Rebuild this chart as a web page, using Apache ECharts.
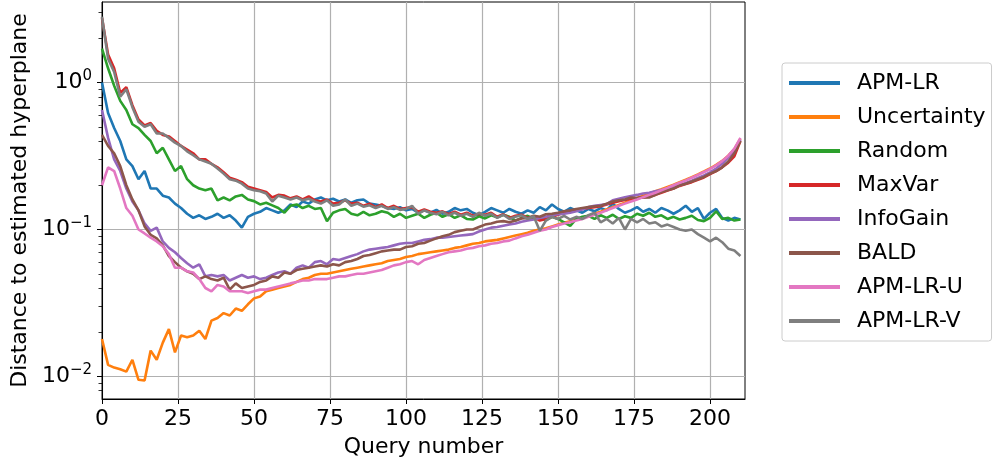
<!DOCTYPE html>
<html>
<head>
<meta charset="utf-8">
<script src="https://cdn.jsdelivr.net/npm/echarts@6/dist/echarts.min.js"></script>
<style>
html, body { margin: 0; padding: 0; background: #fff; }
#chart { width: 995px; height: 463px; }
</style>
</head>
<body>
<div id="chart"></div>
<script>
// distance to estimated hyperplane, one value every 2 queries (0..210)
const apmLr = [
  1.00, 0.62, 0.49, 0.40, 0.30, 0.27, 0.22, 0.25, 0.19, 0.19,
  0.17, 0.165, 0.15, 0.14, 0.128, 0.12, 0.125, 0.118, 0.122, 0.128,
  0.12, 0.125, 0.115, 0.103, 0.122, 0.128, 0.132, 0.14, 0.135, 0.13,
  0.135, 0.148, 0.142, 0.155, 0.15, 0.16, 0.165, 0.158, 0.162, 0.155,
  0.16, 0.152, 0.158, 0.16, 0.15, 0.148, 0.145, 0.14, 0.138, 0.142,
  0.135, 0.138, 0.13, 0.135, 0.13, 0.136, 0.128, 0.132, 0.14, 0.135,
  0.138, 0.13, 0.125, 0.132, 0.14, 0.135, 0.13, 0.138, 0.132, 0.128,
  0.135, 0.13, 0.142, 0.135, 0.148, 0.138, 0.132, 0.14, 0.135, 0.13,
  0.138, 0.133, 0.14, 0.135, 0.15, 0.138, 0.13, 0.135, 0.142, 0.132,
  0.138, 0.13, 0.14, 0.135, 0.128, 0.135, 0.145, 0.132, 0.14, 0.118,
  0.13, 0.138, 0.12, 0.115, 0.12, 0.117
];
const uncertainty = [
  0.018, 0.012, 0.0115, 0.0112, 0.0108, 0.013, 0.0095, 0.0094, 0.015, 0.013,
  0.017, 0.021, 0.0146, 0.019, 0.0185, 0.019, 0.0205, 0.018, 0.024, 0.025,
  0.027, 0.026, 0.029, 0.028, 0.031, 0.034, 0.035, 0.038, 0.039, 0.04,
  0.041, 0.042, 0.044, 0.046, 0.047, 0.049, 0.05, 0.05, 0.051, 0.052,
  0.053, 0.054, 0.055, 0.056, 0.057, 0.058, 0.059, 0.061, 0.062, 0.063,
  0.065, 0.066, 0.068, 0.069, 0.07, 0.071, 0.072, 0.073, 0.075, 0.076,
  0.078, 0.08, 0.081, 0.083, 0.084, 0.085, 0.087, 0.089, 0.091, 0.093,
  0.095, 0.098, 0.1, 0.102, 0.105, 0.108, 0.111, 0.114, 0.117, 0.12,
  0.124, 0.128, 0.132, 0.137, 0.142, 0.147, 0.152, 0.158, 0.164, 0.17,
  0.176, 0.182, 0.188, 0.195, 0.202, 0.21, 0.218, 0.227, 0.237, 0.248,
  0.26, 0.275, 0.293, 0.318, 0.352, 0.415
];
const random = [
  1.70, 1.25, 0.95, 0.75, 0.65, 0.52, 0.49, 0.44, 0.40, 0.33,
  0.36, 0.30, 0.25, 0.27, 0.22, 0.20, 0.19, 0.185, 0.19, 0.158,
  0.165, 0.158, 0.168, 0.172, 0.16, 0.156, 0.148, 0.152, 0.146, 0.14,
  0.13, 0.145, 0.148, 0.14, 0.145, 0.138, 0.14, 0.114, 0.13, 0.135,
  0.138, 0.128, 0.125, 0.132, 0.125, 0.128, 0.133, 0.13, 0.122, 0.128,
  0.12, 0.124, 0.128, 0.12, 0.126, 0.13, 0.122, 0.127, 0.12, 0.125,
  0.118, 0.117, 0.123, 0.119, 0.125, 0.121, 0.126, 0.122, 0.115, 0.12,
  0.124, 0.118, 0.121, 0.116, 0.122, 0.118, 0.112, 0.106, 0.118, 0.122,
  0.124, 0.118, 0.125, 0.12, 0.126, 0.118, 0.123, 0.12, 0.128, 0.124,
  0.13, 0.122, 0.125, 0.118, 0.122, 0.117, 0.12, 0.124, 0.116, 0.114,
  0.12, 0.133, 0.118, 0.12, 0.115, 0.117
];
const maxVar = [
  2.75, 1.55, 1.25, 0.85, 0.93, 0.70, 0.56, 0.51, 0.53, 0.47,
  0.44, 0.43, 0.40, 0.37, 0.35, 0.33, 0.30, 0.30, 0.28, 0.265,
  0.245, 0.225, 0.218, 0.21, 0.195, 0.19, 0.185, 0.18, 0.165, 0.172,
  0.17, 0.163, 0.168, 0.16, 0.168, 0.158, 0.155, 0.16, 0.15, 0.152,
  0.158, 0.15, 0.152, 0.145, 0.15, 0.142, 0.148, 0.14, 0.145, 0.138,
  0.14, 0.142, 0.132, 0.137, 0.132, 0.13, 0.133, 0.127, 0.132, 0.126,
  0.13, 0.124, 0.128, 0.126, 0.13, 0.122, 0.127, 0.12, 0.124, 0.126,
  0.12, 0.122, 0.115, 0.118, 0.122, 0.126, 0.13, 0.133, 0.136, 0.138,
  0.14, 0.142, 0.144, 0.148, 0.152, 0.156, 0.159, 0.162, 0.163, 0.165,
  0.167, 0.172, 0.178, 0.184, 0.19, 0.198, 0.204, 0.21, 0.218, 0.226,
  0.238, 0.25, 0.265, 0.285, 0.315, 0.40
];
const infoGain = [
  0.65, 0.42, 0.30, 0.25, 0.19, 0.155, 0.135, 0.11, 0.098, 0.103,
  0.083, 0.075, 0.07, 0.064, 0.059, 0.055, 0.058, 0.048, 0.049, 0.048,
  0.049, 0.045, 0.047, 0.049, 0.047, 0.048, 0.046, 0.047, 0.049, 0.051,
  0.052, 0.05, 0.055, 0.057, 0.055, 0.06, 0.061, 0.058, 0.063, 0.062,
  0.064, 0.066, 0.068, 0.071, 0.073, 0.074, 0.075, 0.076, 0.078, 0.08,
  0.081, 0.081, 0.083, 0.085, 0.086, 0.088, 0.088, 0.089, 0.09, 0.091,
  0.092, 0.093, 0.097, 0.1, 0.103, 0.104, 0.106, 0.108, 0.11, 0.113,
  0.115, 0.117, 0.12, 0.122, 0.125, 0.127, 0.128, 0.13, 0.133, 0.137,
  0.142, 0.145, 0.147, 0.149, 0.158, 0.162, 0.166, 0.169, 0.172, 0.176,
  0.178, 0.182, 0.186, 0.19, 0.195, 0.2, 0.207, 0.215, 0.224, 0.233,
  0.245, 0.26, 0.28, 0.31, 0.34, 0.41
];
const bald = [
  0.44, 0.37, 0.33, 0.27, 0.20, 0.16, 0.135, 0.105, 0.092, 0.087,
  0.078, 0.066, 0.06, 0.055, 0.052, 0.05, 0.046, 0.048, 0.046, 0.045,
  0.047, 0.039, 0.043, 0.04, 0.041, 0.042, 0.044, 0.045, 0.048, 0.047,
  0.051, 0.05, 0.053, 0.054, 0.055, 0.056, 0.057, 0.056, 0.058, 0.057,
  0.06, 0.061, 0.063, 0.066, 0.067, 0.069, 0.071, 0.072, 0.073, 0.073,
  0.076, 0.077, 0.08, 0.081, 0.084, 0.087, 0.09, 0.092, 0.096, 0.098,
  0.1, 0.1, 0.104, 0.108, 0.11, 0.113, 0.114, 0.112, 0.115, 0.119,
  0.12, 0.124, 0.122, 0.127, 0.128, 0.13, 0.133, 0.135, 0.138, 0.14,
  0.142, 0.144, 0.145, 0.15, 0.155, 0.158, 0.16, 0.165, 0.164, 0.166,
  0.165, 0.172, 0.18, 0.185, 0.19, 0.2, 0.205, 0.212, 0.22, 0.228,
  0.24, 0.25, 0.265, 0.29, 0.33, 0.40
];
const apmLrU = [
  0.20, 0.265, 0.25, 0.19, 0.14, 0.124, 0.10, 0.094, 0.088, 0.083,
  0.077, 0.068, 0.055, 0.055, 0.052, 0.051, 0.046, 0.040, 0.038, 0.042,
  0.041, 0.038, 0.038, 0.038, 0.037, 0.038, 0.039, 0.039, 0.040, 0.041,
  0.042, 0.043, 0.044, 0.045, 0.045, 0.046, 0.046, 0.046, 0.047, 0.048,
  0.048, 0.049, 0.05, 0.05, 0.051, 0.052, 0.053, 0.055, 0.057, 0.058,
  0.06, 0.061, 0.058, 0.062, 0.064, 0.066, 0.068, 0.07, 0.071, 0.072,
  0.074, 0.075, 0.077, 0.078, 0.08, 0.081, 0.083, 0.084, 0.087, 0.09,
  0.092, 0.095, 0.098, 0.1, 0.104, 0.107, 0.11, 0.112, 0.115, 0.118,
  0.122, 0.126, 0.13, 0.135, 0.14, 0.145, 0.15, 0.155, 0.16, 0.166,
  0.172, 0.178, 0.185, 0.192, 0.2, 0.208, 0.216, 0.225, 0.235, 0.246,
  0.258, 0.273, 0.292, 0.318, 0.355, 0.42
];
const apmLrV = [
  2.80, 1.45, 1.18, 0.80, 0.90, 0.68, 0.54, 0.50, 0.52, 0.45,
  0.45, 0.42, 0.39, 0.37, 0.34, 0.32, 0.30, 0.29, 0.28, 0.26,
  0.24, 0.22, 0.215, 0.205, 0.19, 0.185, 0.182, 0.176, 0.155, 0.17,
  0.165, 0.16, 0.165, 0.158, 0.162, 0.155, 0.15, 0.158, 0.145, 0.148,
  0.16, 0.145, 0.15, 0.143, 0.146, 0.14, 0.145, 0.138, 0.142, 0.136,
  0.138, 0.145, 0.128, 0.135, 0.13, 0.127, 0.132, 0.125, 0.13, 0.124,
  0.128, 0.122, 0.13, 0.124, 0.128, 0.12, 0.126, 0.118, 0.122, 0.125,
  0.118, 0.123, 0.098, 0.115, 0.122, 0.118, 0.124, 0.117, 0.122, 0.118,
  0.125, 0.13, 0.112, 0.118, 0.11, 0.12, 0.1, 0.118, 0.112, 0.118,
  0.11, 0.112, 0.105, 0.108, 0.104, 0.1, 0.098, 0.1, 0.093, 0.088,
  0.083, 0.088, 0.082, 0.074, 0.072, 0.066
];

const seriesNames = ['APM-LR', 'Uncertainty', 'Random', 'MaxVar', 'InfoGain', 'BALD', 'APM-LR-U', 'APM-LR-V'];
const seriesData = [apmLr, uncertainty, random, maxVar, infoGain, bald, apmLrU, apmLrV];
const colors = ['#1f77b4', '#ff7f0e', '#2ca02c', '#d62728', '#9467bd', '#8c564b', '#e377c2', '#7f7f7f'];
const xTicks = [0, 25, 50, 75, 100, 125, 150, 175, 200];
const yTicks = [0.01, 0.1, 1];
const yMin = 0.00703;
const yMax = 3.53;

// query numbers go 0, 2, 4, ...
const queries = apmLr.map((_, i) => i * 2);

// minor log ticks 2..9 x 10^k inside the range
const minorTicks = [];
for (let k = -3; k <= 0; k++) {
  for (let m = 2; m <= 9; m++) {
    const v = m * Math.pow(10, k);
    if (v > yMin && v < yMax) minorTicks.push(v);
  }
}

const font = 'DejaVu Sans';
const sup = { '-2': '−2', '-1': '−1', '0': '0' };

const chart = echarts.init(document.getElementById('chart'));
chart.setOption({
  animation: false,
  textStyle: { fontFamily: font },
  color: colors,
  grid: {
    left: 102, right: 250, top: 2, bottom: 63,
    show: true, borderColor: '#000', borderWidth: 1, backgroundColor: 'transparent'
  },
  legend: {
    orient: 'vertical',
    left: 782, top: 63,
    padding: [8, 6, 8, 7],
    itemWidth: 51, itemHeight: 4, itemGap: 10,
    icon: 'rect',
    borderColor: '#cccccc', borderWidth: 1, borderRadius: 3,
    textStyle: { fontFamily: font, fontSize: 22, color: '#000', lineHeight: 24, padding: [0, 0, 0, 12] },
    data: seriesNames
  },
  xAxis: {
    type: 'value', min: 0, max: 211.5, interval: 25,
    name: 'Query number', nameLocation: 'middle', nameGap: 37,
    nameTextStyle: { fontFamily: font, fontSize: 22, color: '#000' },
    axisLine: { lineStyle: { color: '#000', width: 1 } },
    axisTick: { show: true, length: 5, lineStyle: { color: '#000' }, customValues: xTicks },
    axisLabel: { fontFamily: font, fontSize: 22, color: '#000', margin: 9, customValues: xTicks },
    splitLine: { show: true, lineStyle: { color: '#b0b0b0', width: 1.2 } }
  },
  yAxis: [{
    type: 'log', logBase: 10, min: yMin, max: yMax,
    name: 'Distance to estimated hyperplane', nameLocation: 'middle', nameGap: 70,
    nameTextStyle: { fontFamily: font, fontSize: 22, color: '#000' },
    axisLine: { show: true, lineStyle: { color: '#000', width: 1 } },
    axisTick: { show: true, length: 5, lineStyle: { color: '#000' }, customValues: yTicks },
    axisLabel: {
      margin: 10, customValues: yTicks,
      formatter: v => '{b|10}{s|' + sup[String(Math.round(Math.log10(v)))] + '}',
      rich: {
        b: { fontFamily: font, fontSize: 22, color: '#000' },
        s: { fontFamily: font, fontSize: 15, color: '#000', padding: [0, 0, 12, 0] }
      }
    },
    splitLine: { show: true, lineStyle: { color: '#b0b0b0', width: 1.2 } }
  }, {
    // carries the minor log ticks only
    type: 'log', logBase: 10, min: yMin, max: yMax, position: 'left',
    axisLine: { show: false },
    axisTick: { show: true, length: 3.5, lineStyle: { color: '#000', width: 0.8 }, customValues: minorTicks },
    axisLabel: { show: false },
    splitLine: { show: false }
  }],
  series: seriesNames.map((name, i) => ({
    name: name,
    type: 'line',
    data: seriesData[i].map((v, j) => [queries[j], v]),
    showSymbol: false,
    symbol: 'none',
    lineStyle: { width: 2.6, color: colors[i] },
    itemStyle: { color: colors[i] }
  }))
});
</script>
</body>
</html>
